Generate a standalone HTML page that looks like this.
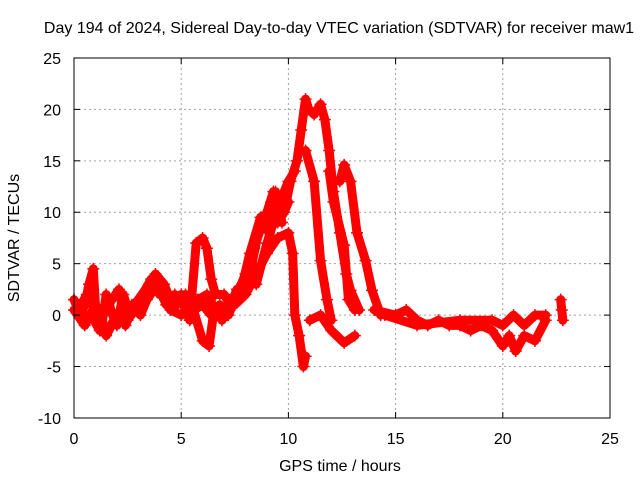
<!DOCTYPE html>
<html><head><meta charset="utf-8"><style>
body{margin:0;background:#fff;}
svg text{font-family:"Liberation Sans",sans-serif;font-size:16px;fill:#000;}
</style></head><body>
<svg id="c" width="640" height="480" xmlns="http://www.w3.org/2000/svg">
<text x="339" y="33" text-anchor="middle">Day 194 of 2024, Sidereal Day-to-day VTEC variation (SDTVAR) for receiver maw1</text>
<text x="340" y="471" text-anchor="middle">GPS time / hours</text>
<text transform="translate(19,238) rotate(-90)" text-anchor="middle">SDTVAR / TECUs</text>
<g id="grid"></g><g id="data"></g><g id="axes"></g>
</svg>
<script>
const xTicks=[0,5,10,15,20,25];
const yTicks=[-10,-5,0,5,10,15,20,25];
const trackA=[[0,1.5],[0.3,0],[0.5,1],[0.7,3],[0.9,4.5],[1.0,1],[1.3,-1],[1.5,2],[1.8,0],[2.0,-1],[2.3,2],[2.6,0],[3.0,1.5],[3.5,3],[3.8,4],[4.2,3],[4.5,1.5],[5.0,2],[5.3,0.5],[5.5,2],[5.7,7],[6.0,7.5],[6.2,6.5],[6.4,3.5],[6.6,2],[7.0,2],[7.3,1],[7.6,2.5],[8.0,3],[8.3,5],[8.6,8],[9.0,10],[9.3,12],[9.6,11],[10.0,13],[10.3,14]];
const trackB=[[0,0.5],[0.5,-1],[1,1],[1.5,-2],[2,0],[2.5,-0.5],[3,1],[3.5,2],[4,3],[4.5,0.5],[5,0],[5.5,1],[6,-2.5],[6.3,-3],[6.5,0],[7,0.5],[7.5,1],[8,2],[8.5,4],[9,6],[9.5,7.5],[10,8],[10.2,6],[10.3,0],[10.5,-2],[10.7,-5],[10.8,-4]];
const trackK=[[0.2,0.5],[0.6,2],[1.1,0],[1.6,1],[2.1,2.5],[2.4,-1],[2.8,1],[3.2,2],[3.6,3.5],[4.0,2],[4.4,2],[4.8,1],[5.2,2],[5.6,0.5],[6.0,1],[6.4,0],[6.8,1],[7.2,0],[7.6,2],[8.0,4],[8.4,6.5],[8.8,9],[9.2,11],[9.5,9],[9.8,10],[10.0,11]];
const trackL=[[0.4,-0.5],[0.8,0],[1.2,-1.5],[1.7,-1],[2.2,0.5],[2.7,1],[3.1,0],[3.4,1.5],[3.9,3],[4.3,1],[4.7,2],[5.1,1],[5.4,-0.5],[5.8,1.5],[6.2,2],[6.6,0.5],[6.9,-0.5],[7.4,1.5],[7.8,2.5],[8.2,6],[8.7,9.5],[9.1,8],[9.4,12],[9.7,9]];
const trackC=[[8.5,3],[9,7],[9.3,9],[9.6,10],[9.9,11],[10.1,13],[10.4,15],[10.6,18],[10.8,21],[10.95,20],[11.2,19.5],[11.5,20.5],[11.7,19],[11.9,16],[12.1,12],[12.4,8],[12.7,4],[12.9,2.4],[13.3,0.5]];
const trackD=[[10.8,16],[11.2,13],[11.5,5.3],[11.8,1.5],[12.0,-0.5]];
const trackE=[[11.0,-0.5],[11.5,0],[12.0,-1.5],[12.6,-2.7],[13.1,-2]];
const trackF=[[12.4,13],[12.6,14.6],[12.9,13],[13.2,8],[13.6,5.3],[13.9,2.4],[14.3,0]];
const trackG=[[11.9,14],[12.1,11],[12.6,6.8],[12.8,1.5],[13.1,0.5]];
const trackH=[[14,0.5],[15,0],[15.5,0.5],[16,-0.5],[16.5,-1],[17,-0.5],[17.5,-1],[18,-1],[18.5,-1.5],[19,-1],[19.5,-1.5],[20,-3],[20.3,-2],[20.6,-3.5],[21,-2],[21.5,-2.5],[22,-0.5]];
const trackI=[[14.5,0],[16,-1],[18,-0.5],[19.5,-0.5],[20,-1],[20.5,0],[21,-1],[21.5,0],[22,0]];
const trackJ=[[22.7,1.5],[22.75,0.5],[22.8,-0.5]];
const tracks=[trackA,trackB,trackK,trackL,trackC,trackD,trackE,trackF,trackG,trackH,trackI,trackJ];
const X=v=>74+v*(536/25), Y=v=>315.1-v*(360/35);
const NS="http://www.w3.org/2000/svg";
function mk(t,a,p){const e=document.createElementNS(NS,t);for(const k in a)e.setAttribute(k,a[k]);p.appendChild(e);return e;}
const grid=document.getElementById('grid'),axes=document.getElementById('axes'),data=document.getElementById('data');
xTicks.forEach(t=>{
 if(t>0&&t<25){const g=mk('line',{x1:X(t),x2:X(t),y1:58,y2:418,stroke:'#a0a0a0','stroke-dasharray':'2,3'},grid);
 
 }
 mk('line',{x1:X(t),x2:X(t),y1:418,y2:412,stroke:'#000'},axes);
 mk('line',{x1:X(t),x2:X(t),y1:58,y2:64,stroke:'#000'},axes);
 const l=mk('text',{x:X(t),y:444,'text-anchor':'middle'},axes);l.textContent=t;
 
 
});
yTicks.forEach(t=>{
 if(t>-10&&t<25){const g=mk('line',{x1:74,x2:610,y1:Y(t),y2:Y(t),stroke:'#a0a0a0','stroke-dasharray':'2,3'},grid);
 
 }
 mk('line',{x1:74,x2:80,y1:Y(t),y2:Y(t),stroke:'#000'},axes);
 mk('line',{x1:604,x2:610,y1:Y(t),y2:Y(t),stroke:'#000'},axes);
 const l=mk('text',{x:61,y:Y(t)+6,'text-anchor':'end'},axes);l.textContent=t;
 
 
});
const fr=mk('rect',{x:74,y:58,width:536,height:360,fill:'none',stroke:'#000'},axes);


tracks.forEach(tr=>{
 const pl=mk('polyline',{points:tr.map(p=>X(p[0])+','+Y(p[1])).join(' '),fill:'none',stroke:'#ff0000','stroke-width':9,'stroke-linejoin':'round','stroke-linecap':'round'},data);
 
 
 tr.forEach(p=>{
  const x=X(p[0]),y=Y(p[1]);
  const m=mk('path',{d:`M${x-6},${y}H${x+6}M${x},${y-6}V${y+6}`,stroke:'#ff0000','stroke-width':1.5},data);
  
  
 });
});
</script>
</body></html>
